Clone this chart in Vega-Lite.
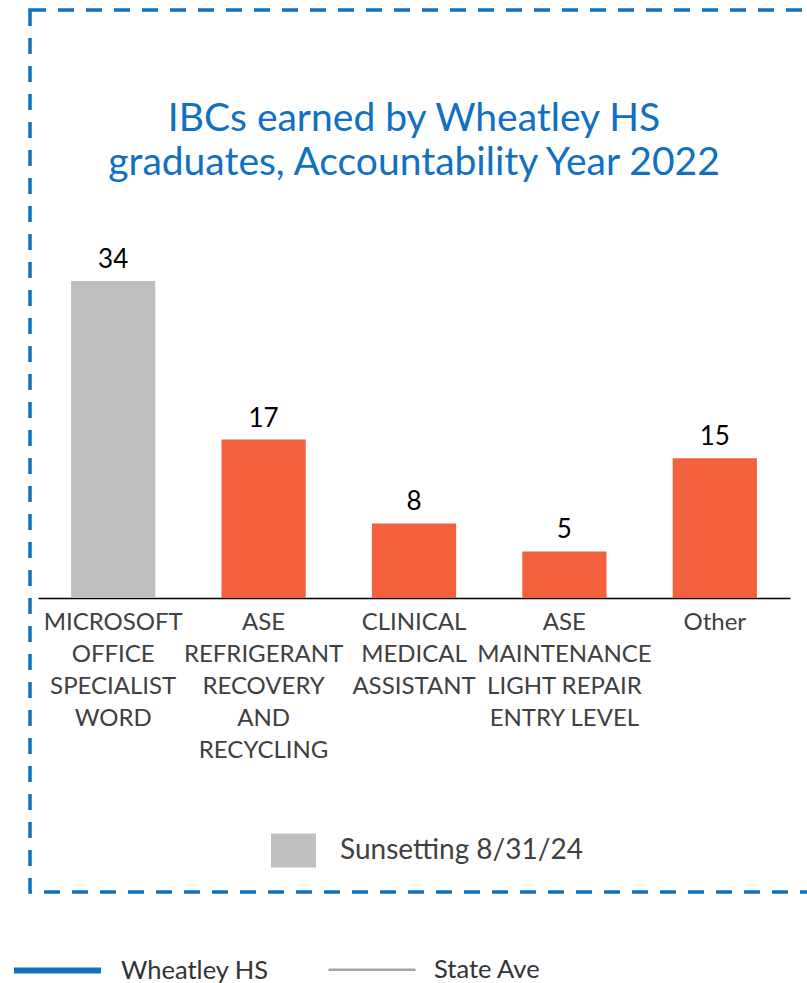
{
  "$schema": "https://vega.github.io/schema/vega-lite/v6.json",
  "width": 792,
  "height": 882,
  "autosize": {"type": "none"},
  "padding": {"left": 30, "top": 10, "right": -15, "bottom": 91},
  "config": {
    "font": "Lato",
    "view": {"stroke": "#1170C0", "strokeWidth": 3.5, "strokeDash": [16, 12]}
  },
  "title": {
    "text": ["IBCs earned by Wheatley HS", "graduates, Accountability Year 2022"],
    "fontSize": 39,
    "font": "Lato",
    "fontWeight": "normal",
    "color": "#1170C0",
    "anchor": "middle",
    "frame": "group",
    "offset": -173,
    "lineHeight": 44,
    "dx": -12
  },
  "layer": [
    {
      "data": {
        "values": [
          {"cert": "MICROSOFT OFFICE SPECIALIST WORD", "count": 34, "status": "Sunsetting 8/31/24"},
          {"cert": "ASE REFRIGERANT RECOVERY AND RECYCLING", "count": 17, "status": "Active"},
          {"cert": "CLINICAL MEDICAL ASSISTANT", "count": 8, "status": "Active"},
          {"cert": "ASE MAINTENANCE LIGHT REPAIR ENTRY LEVEL", "count": 5, "status": "Active"},
          {"cert": "Other", "count": 15, "status": "Active"}
        ]
      },
      "encoding": {
        "x": {
          "field": "cert",
          "type": "nominal",
          "sort": null,
          "scale": {"range": [8, 760], "paddingInner": 0.44, "paddingOuter": 0.22},
          "axis": {
            "title": null,
            "orient": "bottom",
            "offset": -294,
            "labelAngle": 0,
            "ticks": false,
            "domainColor": "#000000",
            "domainWidth": 1.5,
            "labelFontSize": 24,
            "labelColor": "#404040",
            "labelLineHeight": 32,
            "labelBaseline": "top",
            "labelPadding": 12,
            "labelLimit": 0,
            "labelExpr": "datum.value == 'ASE MAINTENANCE LIGHT REPAIR ENTRY LEVEL' ? ['ASE','MAINTENANCE','LIGHT REPAIR','ENTRY LEVEL'] : split(datum.value, ' ')"
          }
        },
        "y": {
          "field": "count",
          "type": "quantitative",
          "scale": {"domain": [0, 34], "range": [588, 271], "zero": true, "nice": false},
          "axis": null
        }
      },
      "layer": [
        {
          "mark": {"type": "bar"},
          "encoding": {
            "color": {
              "field": "status",
              "type": "nominal",
              "scale": {"domain": ["Sunsetting 8/31/24", "Active"], "range": ["#BFBFBF", "#F2603C"]},
              "legend": {
                "values": ["Sunsetting 8/31/24"],
                "title": null,
                "orient": "none",
                "legendX": 241,
                "legendY": 818,
                "padding": 0,
                "symbolType": "M-1,-0.756H1V0.756H-1Z",
                "symbolSize": 2025,
                "symbolStrokeWidth": 0,
                "labelFontSize": 28,
                "labelColor": "#404040",
                "labelLimit": 0,
                "labelOffset": 24
              }
            }
          }
        },
        {
          "mark": {"type": "text", "baseline": "alphabetic", "dy": -13, "fontSize": 26, "color": "#000000"},
          "encoding": {"text": {"field": "count", "type": "quantitative"}}
        }
      ]
    },
    {
      "data": {"values": [{"series": "Wheatley HS"}, {"series": "State Ave"}]},
      "mark": {"type": "rule", "opacity": 0},
      "encoding": {
        "y": {"datum": 0, "type": "quantitative", "axis": null},
        "stroke": {
          "field": "series",
          "type": "nominal",
          "sort": null,
          "scale": {"domain": ["Wheatley HS", "State Ave"], "range": ["#1170C0", "#A6A6A6"]},
          "legend": {
            "title": null,
            "orient": "none",
            "direction": "horizontal",
            "legendX": -19,
            "legendY": 914,
            "padding": 0,
            "symbolType": "stroke",
            "symbolSize": 7569,
            "symbolOpacity": 1,
            "labelFontSize": 25.5,
            "labelColor": "#333333",
            "labelLimit": 0,
            "labelOffset": 17,
            "columnPadding": 54
          }
        },
        "strokeWidth": {
          "field": "series",
          "type": "nominal",
          "sort": null,
          "scale": {"domain": ["Wheatley HS", "State Ave"], "range": [6, 2.5]},
          "legend": {
            "title": null,
            "orient": "none",
            "direction": "horizontal",
            "legendX": -19,
            "legendY": 914,
            "padding": 0,
            "symbolType": "stroke",
            "symbolSize": 7569,
            "symbolOpacity": 1,
            "labelFontSize": 25.5,
            "labelColor": "#333333",
            "labelLimit": 0,
            "labelOffset": 17,
            "columnPadding": 54
          }
        }
      }
    }
  ]
}
